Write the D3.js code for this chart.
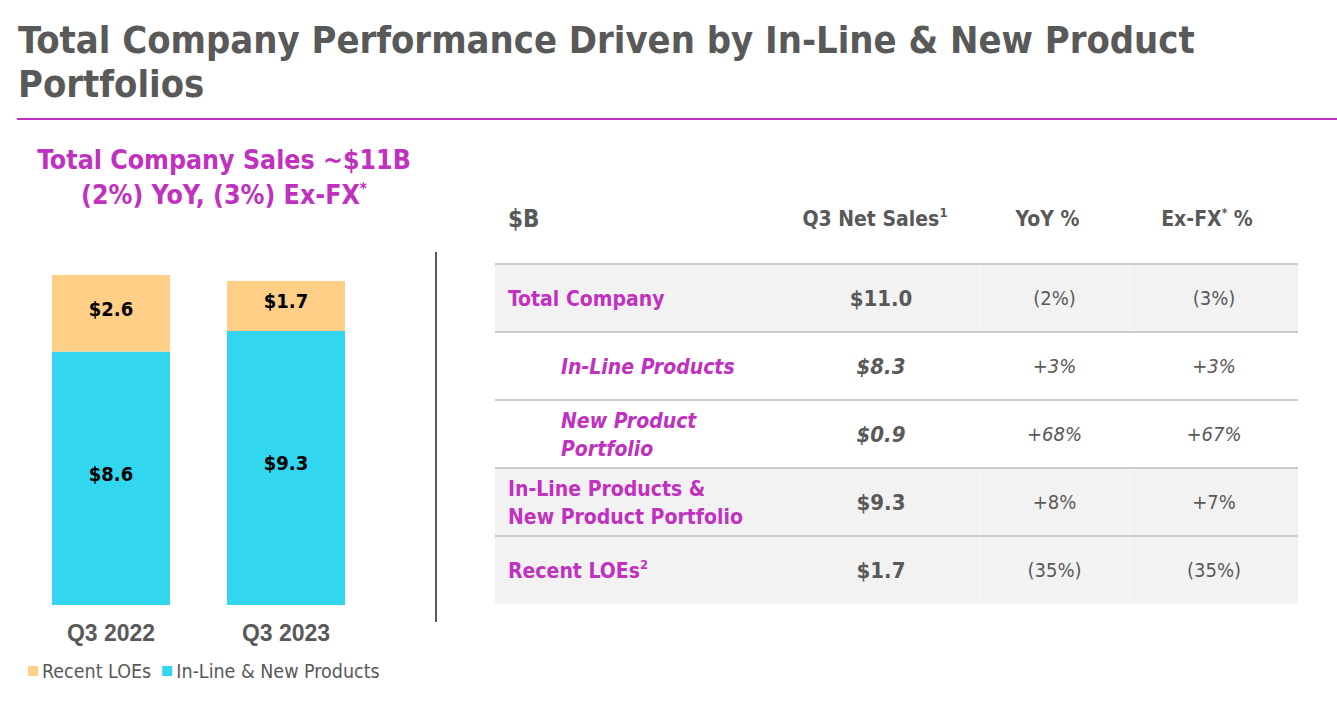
<!DOCTYPE html>
<html>
<head>
<meta charset="utf-8">
<script src="https://cdn.jsdelivr.net/npm/d3@7"></script>
<style>
  body { margin: 0; background: #fff; }
  svg { display: block; font-family: "DejaVu Sans Condensed", "DejaVu Sans", sans-serif; font-stretch: condensed; }
</style>
</head>
<body>
<svg id="chart" width="1337" height="711"></svg>
<script>
// chart data
var categories = ["Q3 2022", "Q3 2023"];
var recentLoes = [2.6, 1.7];
var inLineNew = [8.6, 9.3];
var seriesNames = ["Recent LOEs", "In-Line & New Products"];

// table data
var rowLabels = ["Total Company", "In-Line Products", "New Product\nPortfolio",
  "In-Line Products &\nNew Product Portfolio", "Recent LOEs"];
var rowNotes = ["", "", "", "", "2"];
var isSubItem = [false, true, true, false, false];
var netSales = ["$11.0", "$8.3", "$0.9", "$9.3", "$1.7"];
var yoyPct = ["(2%)", "+3%", "+68%", "+8%", "(35%)"];
var exFxPct = ["(3%)", "+3%", "+67%", "+7%", "(35%)"];

var GRAY = "#595959", PURPLE = "#C031C0", ORANGE = "#FFCF88", CYAN = "#33D6EF";

var svg = d3.select("#chart");

// title
var title = svg.append("text")
  .attr("x", 18).attr("y", 53)
  .attr("fill", GRAY).attr("font-size", 37.8).attr("font-weight", "bold");
title.append("tspan").attr("x", 18).text("Total Company Performance Driven by In-Line & New Product");
title.append("tspan").attr("x", 18).attr("dy", 44).text("Portfolios");

svg.append("line")
  .attr("x1", 17).attr("x2", 1337).attr("y1", 119).attr("y2", 119)
  .attr("stroke", PURPLE).attr("stroke-width", 2);

// subtitle
var sub = svg.append("text")
  .attr("text-anchor", "middle").attr("fill", PURPLE)
  .attr("font-size", 26.5).attr("font-weight", "bold");
sub.append("tspan").attr("x", 224).attr("y", 169).text("Total Company Sales ~$11B");
var sub2 = sub.append("tspan").attr("x", 224).attr("y", 204);
sub2.append("tspan").text("(2%) YoY, (3%) Ex-FX");
sub2.append("tspan").attr("font-size", 15).attr("dy", -10).text("*");

// stacked bars
var stackData = categories.map(function(c, i) {
  return { cat: c, loe: recentLoes[i], inl: inLineNew[i] };
});
var stack = d3.stack().keys(["inl", "loe"])(stackData);

var x = d3.scaleBand().domain(categories)
  .range([23.5, 373.5]).paddingInner(0.326).paddingOuter(0.163);
var y = d3.scaleLinear()
  .domain([0, d3.max(stackData, function(d) { return d.loe + d.inl; })])
  .range([605, 275]);
var color = d3.scaleOrdinal().domain(["loe", "inl"]).range([ORANGE, CYAN]);

var layers = svg.append("g").selectAll("g").data(stack).join("g")
  .attr("fill", function(d) { return color(d.key); });

layers.selectAll("rect").data(function(d) { return d; }).join("rect")
  .attr("x", function(d) { return x(d.data.cat); })
  .attr("width", x.bandwidth())
  .attr("y", function(d) { return y(d[1]); })
  .attr("height", function(d) { return y(d[0]) - y(d[1]); });

layers.each(function(layer) {
  d3.select(this).selectAll("text").data(layer).join("text")
    .attr("x", function(d) { return x(d.data.cat) + x.bandwidth() / 2; })
    .attr("y", function(d) { return (y(d[0]) + y(d[1])) / 2 - 5; })
    .attr("dy", "0.36em")
    .attr("text-anchor", "middle")
    .attr("fill", "#000").attr("font-size", 20).attr("font-weight", "bold")
    .text(function(d) { return "$" + d3.format(".1f")(d[1] - d[0]); });
});

var xAxis = svg.append("g").attr("transform", "translate(0,612)")
  .call(d3.axisBottom(x).tickSize(0).tickPadding(0));
xAxis.select(".domain").remove();
xAxis.selectAll("text")
  .attr("dy", "0.71em").attr("y", 13)
  .attr("fill", GRAY).attr("font-size", 23).attr("font-weight", "bold")
  .attr("font-family", null);

// legend
var legend = svg.append("g").attr("transform", "translate(28,671)");
var lx = 0;
[["loe", seriesNames[0]], ["inl", seriesNames[1]]].forEach(function(s) {
  legend.append("rect").attr("x", lx).attr("y", -5).attr("width", 10).attr("height", 10)
    .attr("fill", color(s[0]));
  var t = legend.append("text").attr("x", lx + 14).attr("dy", "0.35em")
    .attr("fill", GRAY).attr("font-size", 19.5).attr("font-weight", 500).text(s[1]);
  lx += 14 + t.node().getComputedTextLength() + 11;
});

// divider
svg.append("line")
  .attr("x1", 436).attr("x2", 436).attr("y1", 252).attr("y2", 622)
  .attr("stroke", GRAY).attr("stroke-width", 2);

// table
var colEdges = [495, 783, 979, 1130, 1298];
var colMid = function(i) { return (colEdges[i] + colEdges[i + 1]) / 2; };
var rows = d3.scaleBand().domain(d3.range(rowLabels.length)).range([264, 604]);
var shaded = [true, false, false, true, true];

var header = svg.append("g").attr("fill", GRAY).attr("font-size", 21).attr("font-weight", "bold");
header.append("text").attr("x", 508).attr("y", 218).attr("dy", "0.36em").attr("font-size", 24).text("$B");
var h1 = header.append("text").attr("x", colMid(1) - 6).attr("y", 218).attr("dy", "0.36em").attr("text-anchor", "middle");
h1.append("tspan").text("Q3 Net Sales");
h1.append("tspan").attr("font-size", 13).attr("dy", -9).text("1");
header.append("text").attr("x", colMid(2) - 7).attr("y", 218).attr("dy", "0.36em").attr("text-anchor", "middle").text("YoY %");
var h3 = header.append("text").attr("x", colMid(3) - 7).attr("y", 218).attr("dy", "0.36em").attr("text-anchor", "middle");
h3.append("tspan").text("Ex-FX");
h3.append("tspan").attr("font-size", 12).attr("dy", -9).text("*");
h3.append("tspan").attr("dy", 9).text(" %");

var rowG = svg.append("g").selectAll("g").data(rowLabels).join("g")
  .attr("transform", function(d, i) { return "translate(0," + rows(i) + ")"; });

rowG.filter(function(d, i) { return shaded[i]; }).append("rect")
  .attr("x", colEdges[0]).attr("width", colEdges[4] - colEdges[0])
  .attr("height", rows.bandwidth()).attr("fill", "#F2F2F2");

rowG.filter(function(d, i) { return shaded[i]; }).selectAll("line.sep")
  .data([2, 3]).join("line").attr("class", "sep")
  .attr("x1", function(c) { return colEdges[c]; }).attr("x2", function(c) { return colEdges[c]; })
  .attr("y1", 0).attr("y2", rows.bandwidth())
  .attr("stroke", "#fafafa").attr("stroke-width", 1);

rowG.append("line")
  .attr("x1", colEdges[0]).attr("x2", colEdges[4]).attr("y1", 0).attr("y2", 0)
  .attr("stroke", "#BDBDBD").attr("stroke-width", 1.5);

rowG.each(function(label, i) {
  var g = d3.select(this);
  var mid = rows.bandwidth() / 2;
  var lines = label.split("\n");
  var italic = isSubItem[i] ? "italic" : null;
  var t = g.append("text")
    .attr("x", isSubItem[i] ? 561 : 508)
    .attr("fill", PURPLE).attr("font-size", 21).attr("font-weight", "bold")
    .attr("font-style", italic);
  lines.forEach(function(l, k) {
    t.append("tspan").attr("x", isSubItem[i] ? 561 : 508)
      .attr("y", mid + (k - (lines.length - 1) / 2) * 28).attr("dy", "0.36em").text(l);
  });
  if (rowNotes[i]) t.append("tspan").attr("font-size", 13).attr("dy", -9).text(rowNotes[i]);

  g.append("text").attr("x", colMid(1)).attr("y", mid).attr("dy", "0.36em")
    .attr("text-anchor", "middle").attr("fill", GRAY)
    .attr("font-size", 22).attr("font-weight", "bold").attr("font-style", italic)
    .text(netSales[i]);
  g.append("text").attr("x", colMid(2)).attr("y", mid).attr("dy", "0.36em")
    .attr("text-anchor", "middle").attr("fill", GRAY)
    .attr("font-size", 20).attr("font-style", italic)
    .text(yoyPct[i]);
  g.append("text").attr("x", colMid(3)).attr("y", mid).attr("dy", "0.36em")
    .attr("text-anchor", "middle").attr("fill", GRAY)
    .attr("font-size", 20).attr("font-style", italic)
    .text(exFxPct[i]);
});
</script>
</body>
</html>
